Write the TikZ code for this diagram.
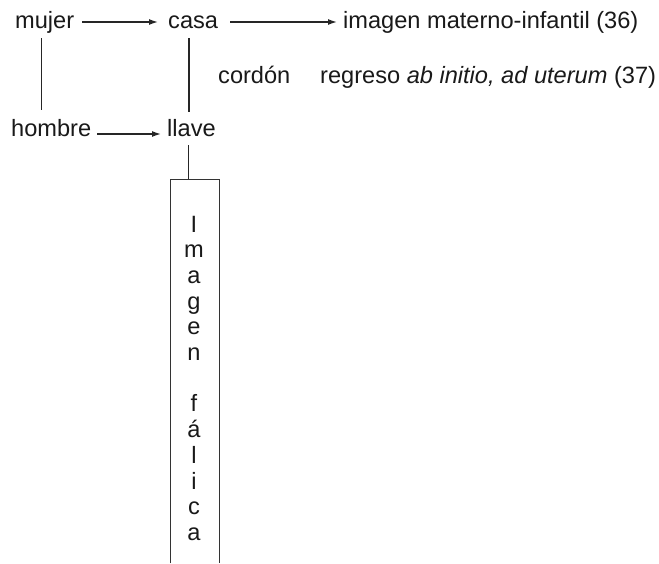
\documentclass[tikz,border=0pt]{standalone}
\usepackage{fontspec}
\setmainfont{Liberation Sans}
\usetikzlibrary{arrows.meta}
\begin{document}
\begin{tikzpicture}[x=1pt,y=-1pt,
  txt/.style={inner sep=0pt, text height=17pt, text depth=5pt, anchor=base west,
    font=\fontsize{23.6}{25.7}\selectfont, text=black!90},
  colletter/.style={inner sep=0pt, anchor=base, font=\fontsize{23.6}{25.7}\selectfont, text=black!90},
  conn/.style={line width=1.4pt, color=black!85},
  arr/.style={conn, -{Latex[length=9pt,width=6pt]}},
  boxline/.style={line width=0.9pt, color=black!80}]
\useasboundingbox (0,0) rectangle (659,563);
\fill[white] (0,0) rectangle (659,563);
% top row
\node[txt] (mujer) at (15,28) {mujer};
\node[txt] (casa) at (168,28) {casa};
\node[txt] (imagen) at (343,28) {imagen materno-infantil (36)};
% middle row
\node[txt] (cordon) at (218,83) {cordón};
\node[txt] (regreso) at (320,83) {regreso \textit{ab initio, ad uterum} (37)};
% bottom row
\node[txt] (hombre) at (11,136) {hombre};
\node[txt] (llave) at (167,136) {llave};
% arrows
\draw[arr, shorten <=8pt, shorten >=10pt] (mujer.east) -- (casa.west);
\draw[arr, shorten <=12pt, shorten >=6pt] (casa.east) -- (imagen.west);
\draw[arr, shorten <=6pt, shorten >=6pt] ([yshift=-4pt]hombre.east) -- ([yshift=-4pt]llave.west);
% vertical lines
\draw[conn, shorten <=5pt, shorten >=9pt] ([xshift=-3.5pt]mujer.south) -- ([xshift=-3.5pt]mujer.south |- hombre.north);
\draw[conn, shorten <=5pt, shorten >=7pt] ([xshift=-4pt]casa.south) -- ([xshift=-4pt]casa.south |- llave.north);
% column box
\node[minimum width=48pt, minimum height=384pt, anchor=north, inner sep=0pt] (box) at (195,179) {};
\draw[conn, shorten <=4pt] ([xshift=-3pt]llave.south) -- ([xshift=-3pt]llave.south |- box.north);
\draw[boxline] (box.south west) |- (box.north east) -- (box.south east);
\foreach \l/\k in {I/0,m/1,a/2,g/3,e/4,n/5,f/7,á/8,l/9,i/10,c/11,a/12}
  \node[colletter] (c\k) at (194,232+25.7*\k) {\l};
\end{tikzpicture}
\end{document}
